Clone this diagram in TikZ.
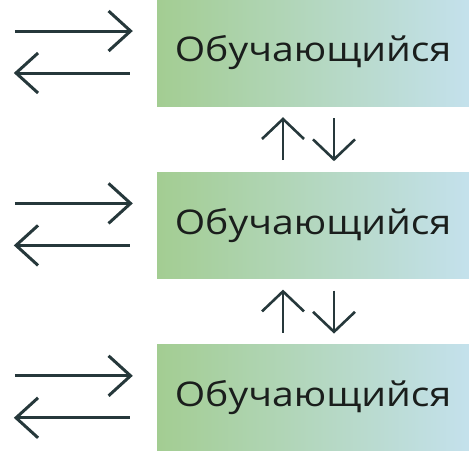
\documentclass[tikz,border=0pt]{standalone}
\usepackage{fontspec}
\setmainfont{Open Sans}
\usetikzlibrary{positioning,arrows.meta}

\definecolor{leftgreen}{RGB}{163,205,146}
\definecolor{midgreen}{RGB}{180,214,186}
\definecolor{rightblue}{RGB}{196,225,236}
\definecolor{arrowdark}{RGB}{38,56,59}
\definecolor{textdark}{RGB}{26,30,28}

\newcommand{\learnername}{\scalebox{1.15}[1]{Обучающийся}}

\tikzset{
  learner/.style={minimum width=312pt, minimum height=106pt, inner sep=0pt,
    left color=leftgreen, middle color=midgreen, right color=rightblue,
    text=textdark, font=\fontsize{34}{34}\selectfont},
  flow/.style={draw=arrowdark, line width=3pt,
    -{Straight Barb[length=22pt,width=40pt]}},
  swap/.style={draw=arrowdark, line width=2.6pt,
    -{Straight Barb[length=20pt,width=42pt]}},
}

\begin{document}
\begin{tikzpicture}[x=1pt, y=-1pt, node distance=66pt]
\useasboundingbox (0,0) rectangle (469,451);

\node [learner] (learner-1) at (313,53) {\learnername};
\node [learner, below=of learner-1] (learner-2) {\learnername};
\node [learner, below=of learner-2] (learner-3) {\learnername};

\foreach \b in {1,2,3} {
  \coordinate (out-\b) at ([xshift=-142pt,yshift=22pt]learner-\b.west);
  \coordinate (in-\b) at ([xshift=-27pt,yshift=-20pt]learner-\b.west);
  \draw [flow] (out-\b) -- ([xshift=-24pt,yshift=22pt]learner-\b.west);
  \draw [flow] (in-\b) -- ([xshift=-143pt,yshift=-20pt]learner-\b.west);
}

\foreach \a/\b in {1/2,2/3} {
  \draw [swap, shorten <=12pt, shorten >=11pt]
    ([xshift=-30pt]learner-\b.north) -- ([xshift=-30pt]learner-\a.south);
  \draw [swap, shorten <=12pt, shorten >=11pt]
    ([xshift=21pt]learner-\a.south) -- ([xshift=21pt]learner-\b.north);
}
\end{tikzpicture}
\end{document}
